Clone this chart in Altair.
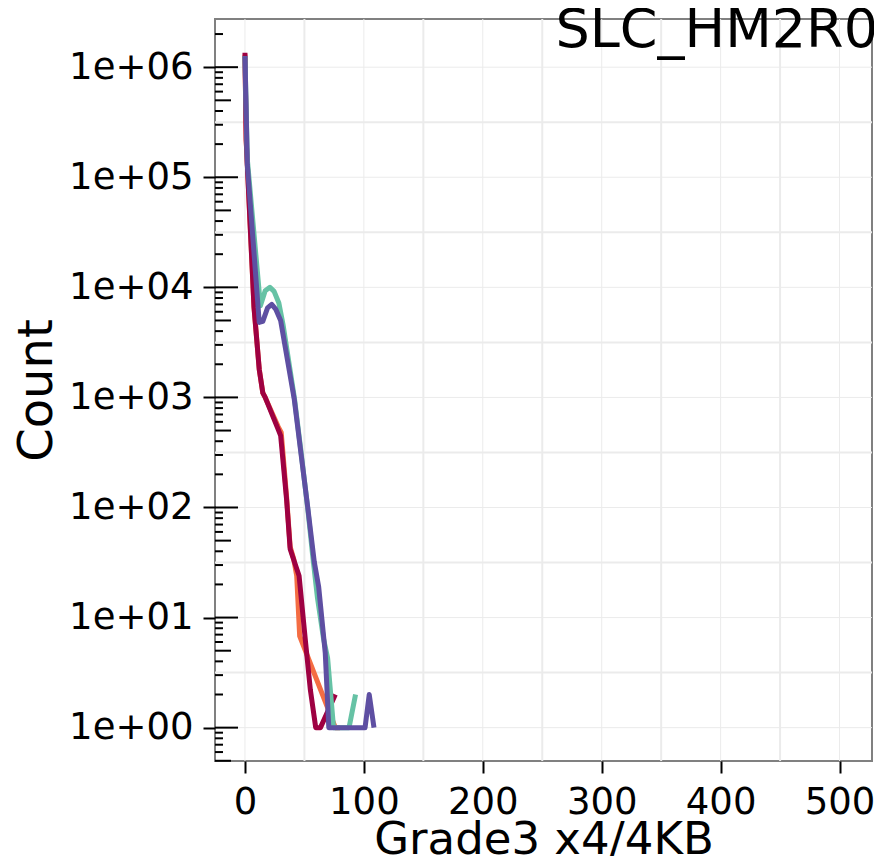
import altair as alt
import pandas as pd

title_text = "SLC_HM2R0"
x_title = "Grade3 x4/4KB"
y_title = "Count"

series_names = ["S_orange", "S_red", "S_teal", "S_purple"]
series_colors = ["#f46d43", "#9e0142", "#66c2a5", "#5e4fa2"]

orange_x = [0, 1, 7.6, 12, 15, 17, 28, 30.5, 35, 38, 41, 43.5, 46, 76, 80]
orange_y = [1.3e6, 2.2e5, 6600, 1800, 1100, 1000, 540, 480, 125, 44, 34, 24, 6.8, 1, 1]

red_x = [0, 1, 7.6, 12, 15, 17, 28, 30, 35, 38, 40, 45.5, 51, 55, 59.5, 63.5, 76]
red_y = [1.35e6, 2.2e5, 6600, 1800, 1100, 1000, 510, 450, 118, 42, 36, 24, 5.9, 2.2, 1, 1, 2]

teal_x = [0, 2, 13, 17, 21, 24.5, 28.5, 32, 41.5, 47, 52.7, 57, 61, 66, 69.5, 74.5, 87.5, 93]
teal_y = [1.26e6, 1.45e5, 6800, 9300, 10000, 9200, 7200, 4600, 1000, 330, 100, 36, 15, 6.5, 4.3, 1, 1, 2]

purple_x = [0, 2, 12, 15, 19, 22.5, 26, 30, 41.5, 47, 52.7, 58.3, 62, 67.5, 70.5, 101, 104.5, 108.5]
purple_y = [1.26e6, 1.3e5, 4800, 4900, 6500, 7000, 6300, 5000, 955, 316, 102, 32, 19, 4.8, 1, 1, 2, 1]

x_ticks = [0, 100, 200, 300, 400, 500]
x_minor = [50, 150, 250, 350, 450]
y_ticks = [1, 10, 100, 1000, 10000, 100000, 1000000]
y_minor = [10 ** (k + 0.5) for k in range(0, 6)]

FONT = "DejaVu Sans"
W, H = 657, 742
Y_LO, Y_HI = 0.4977, 2.74e6

rows = []
for name, xs, ys in zip(series_names, [orange_x, red_x, teal_x, purple_x],
                        [orange_y, red_y, teal_y, purple_y]):
    for i, (a, b) in enumerate(zip(xs, ys)):
        rows.append({"series": name, "x": a, "count": b, "i": i})
df = pd.DataFrame(rows)

x_scale = alt.Scale(domain=[-25.2, 527.3], nice=False, zero=False)
y_scale = alt.Scale(type="log", domain=[Y_LO, Y_HI], nice=False)

x_axis = alt.Axis(values=x_ticks, format="d", grid=False, domain=False,
                  tickSize=12, tickWidth=2, tickColor="black",
                  labelFont=FONT, labelFontSize=37, labelColor="black",
                  labelPadding=11, labelOverlap=False, labelFlush=False,
                  title=x_title, titleFont=FONT, titleFontSize=45,
                  titleFontWeight="normal", titleColor="black", titlePadding=-3)
y_axis = alt.Axis(values=y_ticks,
                  labelExpr="'1e+0' + format(log(datum.value)/LN10, '.0f')",
                  grid=False, domain=False,
                  tickSize=12, tickWidth=2, tickColor="black",
                  labelFont=FONT, labelFontSize=37, labelColor="black",
                  labelPadding=10, labelOverlap=False, labelFlush=False,
                  title=y_title, titleFont=FONT, titleFontSize=48,
                  titleFontWeight="normal", titleColor="black", titlePadding=7)

gx_major = alt.Chart(pd.DataFrame({"g": x_ticks})).mark_rule(
    color="#ebebeb", strokeWidth=1).encode(
    x=alt.X("g:Q", scale=x_scale, axis=x_axis))
gx_minor = alt.Chart(pd.DataFrame({"g": x_minor})).mark_rule(
    color="#ebebeb", strokeWidth=2).encode(
    x=alt.X("g:Q", scale=x_scale, axis=x_axis))
gy_major = alt.Chart(pd.DataFrame({"g": y_ticks})).mark_rule(
    color="#ebebeb", strokeWidth=1).encode(
    y=alt.Y("g:Q", scale=y_scale, axis=y_axis))
gy_minor = alt.Chart(pd.DataFrame({"g": y_minor})).mark_rule(
    color="#ebebeb", strokeWidth=2).encode(
    y=alt.Y("g:Q", scale=y_scale, axis=y_axis))

# log ticks (annotation) inside the left edge
lt_long, lt_mid, lt_short = [], [], []
for d in range(-1, 7):
    for k in range(1, 10):
        v = k * 10 ** d
        if v < Y_LO or v > Y_HI:
            continue
        if k == 1:
            lt_long.append(v)
        elif k == 5:
            lt_mid.append(v)
        else:
            lt_short.append(v)

def logtick_layer(vals, length):
    return alt.Chart(pd.DataFrame({"v": vals})).mark_rule(
        color="black", strokeWidth=2).encode(
        y=alt.Y("v:Q", scale=y_scale, axis=y_axis),
        x=alt.value(0), x2=alt.value(length))

lines = []
for name, col in zip(series_names, series_colors):
    lines.append(
        alt.Chart(df).transform_filter(alt.datum.series == name)
        .mark_line(strokeWidth=5, color=col, strokeJoin="round")
        .encode(x=alt.X("x:Q", scale=x_scale, axis=x_axis),
                y=alt.Y("count:Q", scale=y_scale, axis=y_axis),
                order="i:Q")
    )

title_layer = alt.Chart(pd.DataFrame({"t": [title_text]})).mark_text(
    align="right", baseline="alphabetic", fontSize=54, font=FONT,
    color="black").encode(x=alt.value(W + 6), y=alt.value(28), text="t:N")

chart = alt.layer(
    gx_minor, gx_major, gy_minor, gy_major,
    *lines,
    logtick_layer(lt_long, 23), logtick_layer(lt_mid, 16),
    logtick_layer(lt_short, 8),
    title_layer,
).properties(
    width=W, height=H,
    autosize=alt.AutoSizeParams(type="none"),
    padding={"left": 207, "top": 11, "right": 2, "bottom": 95},
    background="white",
).configure_view(stroke="#808080", strokeWidth=2)

chart.save("out.html", embed_options={"renderer": "svg", "actions": False})
